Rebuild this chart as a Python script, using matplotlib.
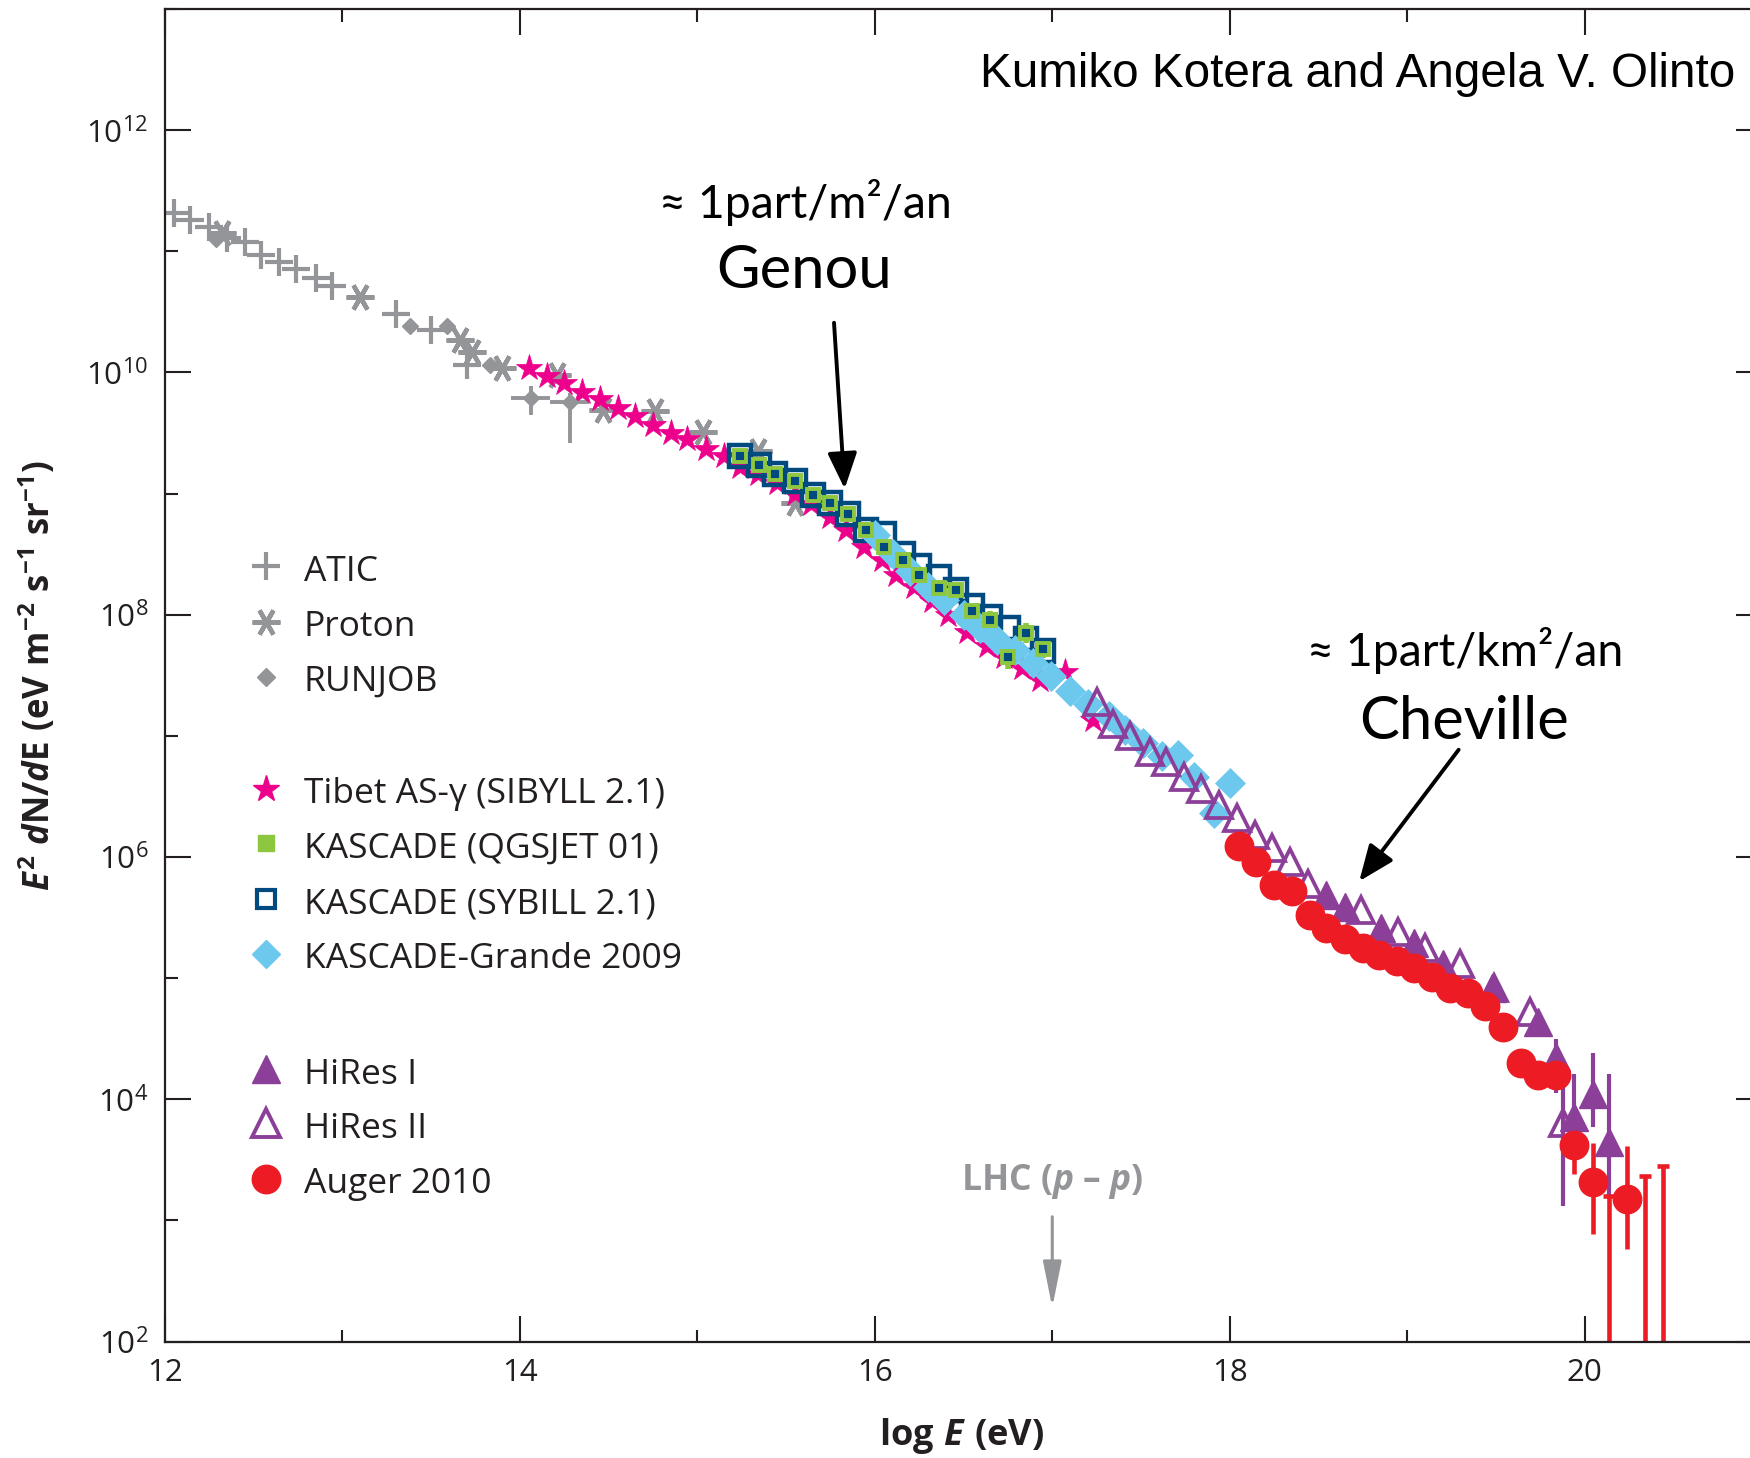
import matplotlib
matplotlib.use("Agg")
import numpy as np
import matplotlib.pyplot as plt
from matplotlib.ticker import FixedLocator, FixedFormatter, NullFormatter

plt.rcParams["font.family"] = ["Open Sans", "DejaVu Sans"]
plt.rcParams["mathtext.fontset"] = "custom"
plt.rcParams["mathtext.rm"] = "Open Sans:bold"
plt.rcParams["mathtext.it"] = "Open Sans:italic:bold"
plt.rcParams["mathtext.bf"] = "Open Sans:bold"

# ---- data: log10(E) and log10(E^2 dN/dE) ----
atic_x = [12.05, 12.14, 12.25, 12.35, 12.45, 12.54, 12.64, 12.74, 12.85, 12.94, 13.30, 13.50, 13.70]
atic_y = [11.32, 11.26, 11.20, 11.11, 11.08, 10.97, 10.91, 10.85, 10.78, 10.71, 10.48, 10.35, 10.06]

proton_x = [12.32, 13.10, 13.66, 13.73, 13.90, 14.21, 14.47, 14.76, 15.03, 15.34, 15.55]
proton_y = [11.15, 10.62, 10.27, 10.17, 10.04, 9.98, 9.69, 9.68, 9.51, 9.35, 8.92]

runjob_x = [12.29, 13.38, 13.59, 13.83, 14.06, 14.28]
runjob_y = [11.10, 10.38, 10.38, 10.06, 9.79, 9.76]
runjob_xerr = [0, 0, 0, 0, 0.11, 0.11]
runjob_ylo = [0, 0, 0, 0, 0.14, 0.34]
runjob_yhi = [0, 0, 0, 0, 0.10, 0.07]

tibet_x = [14.05, 14.15, 14.25, 14.35, 14.45, 14.55, 14.65, 14.75, 14.85, 14.94, 15.05,
           15.15, 15.24, 15.34, 15.45, 15.55, 15.64, 15.75, 15.84, 15.94, 16.04, 16.12,
           16.22, 16.32, 16.41, 16.52, 16.63, 16.73, 16.83, 16.93, 17.07, 17.23]
tibet_y = [10.04, 9.97, 9.91, 9.84, 9.78, 9.71, 9.64, 9.57, 9.50, 9.45, 9.37,
           9.31, 9.22, 9.16, 9.09, 9.00, 8.91, 8.81, 8.70, 8.56, 8.45, 8.33,
           8.23, 8.11, 8.00, 7.86, 7.74, 7.65, 7.56, 7.46, 7.53, 7.13]

kas_x = [15.24, 15.35, 15.44, 15.55, 15.65, 15.75, 15.85, 15.95, 16.05, 16.16, 16.25,
         16.36, 16.46, 16.55, 16.65, 16.75, 16.85, 16.95]
sybill_y = [9.31, 9.24, 9.16, 9.10, 8.99, 8.92, 8.83, 8.70, 8.67, 8.50, 8.40,
            8.31, 8.20, 8.07, 7.98, 7.89, 7.80, 7.70]
qgsjet_y = [9.31, 9.24, 9.16, 9.10, 8.99, 8.92, 8.83, 8.70, 8.56, 8.45, 8.33,
            8.22, 8.20, 8.03, 7.96, 7.65, 7.85, 7.72]
qgsjet_err = [0, 0, 0, 0, 0, 0, 0, 0, 0.03, 0.03, 0.04, 0.04, 0.05, 0.06, 0.07, 0.10, 0.08, 0.08]

grande_x = [16.00, 16.10, 16.20, 16.30, 16.39, 16.50, 16.59, 16.69, 16.79, 16.89, 16.99,
            17.10, 17.20, 17.32, 17.41, 17.51, 17.62, 17.71, 17.80, 17.91, 18.00]
grande_y = [8.66, 8.50, 8.36, 8.23, 8.12, 8.00, 7.89, 7.79, 7.71, 7.60, 7.49,
            7.37, 7.26, 7.16, 7.05, 6.94, 6.83, 6.84, 6.66, 6.36, 6.61]

hires1_x = [18.54, 18.65, 18.85, 19.04, 19.20, 19.48, 19.74, 19.84, 19.94, 20.05, 20.14]
hires1_y = [5.69, 5.59, 5.41, 5.29, 5.12, 4.92, 4.64, 4.35, 3.85, 4.04, 3.65]
hires1_ylo = [0, 0, 0, 0, 0, 0, 0, 0.30, 0.30, 0.27, 0.44]
hires1_yhi = [0, 0, 0, 0, 0, 0, 0, 0.15, 0.36, 0.34, 0.56]

hires2_x = [17.25, 17.34, 17.44, 17.55, 17.64, 17.74, 17.84, 17.94, 18.04, 18.14, 18.24,
            18.34, 18.44, 18.74, 18.95, 19.10, 19.30, 19.49, 19.69, 19.88]
hires2_y = [7.28, 7.10, 7.00, 6.87, 6.78, 6.66, 6.56, 6.43, 6.32, 6.18, 6.07,
            5.96, 5.78, 5.56, 5.38, 5.25, 5.12, 4.92, 4.72, 3.80]
hires2_ylo = [0] * 19 + [0.68]
hires2_yhi = [0] * 19 + [0.53]

auger_x = [18.05, 18.15, 18.25, 18.35, 18.45, 18.54, 18.65, 18.75, 18.84, 18.94, 19.04,
           19.14, 19.24, 19.34, 19.44, 19.54, 19.64, 19.74, 19.84, 19.94, 20.05, 20.24]
auger_y = [6.09, 5.96, 5.77, 5.72, 5.52, 5.41, 5.32, 5.25, 5.19, 5.14, 5.08,
           5.01, 4.92, 4.88, 4.77, 4.60, 4.30, 4.20, 4.20, 3.62, 3.32, 3.18]
auger_ylo = [0] * 19 + [0.24, 0.43, 0.42]
auger_yhi = [0] * 19 + [0.18, 0.32, 0.43]
auger_ul_x = [20.14, 20.34, 20.44]
auger_ul_y = [3.20, 3.37, 3.45]

GRAY = "#939598"
MAGENTA = "#EC008C"
GREEN = "#8DC63F"
NAVY = "#004A7F"
LBLUE = "#6DC8EE"
PURPLE = "#8B3F98"
RED = "#ED1C24"
INK = "#231F20"


def pw(y):
    return 10 ** np.asarray(y, dtype=float)


def yerr(y, lo, hi):
    y = pw(y)
    return [y - y / 10 ** np.asarray(lo), y * 10 ** np.asarray(hi) - y]


fig = plt.figure(figsize=(17.5, 14.58), dpi=100)
ax = fig.add_axes([0.0943, 0.0799, 0.9126, 0.9139])
ax.set_yscale("log")
ax.set_xlim(12, 21)
ax.set_ylim(1e2, 1e13)

# gray low energy sets
ax.plot(atic_x, pw(atic_y), ls="none", marker="+", ms=20, mew=3.0, color=GRAY)
ax.plot(proton_x, pw(proton_y), ls="none", marker=(6, 2, 90), ms=20, mew=3.2, color=GRAY)
ax.errorbar(runjob_x, pw(runjob_y), xerr=runjob_xerr, yerr=yerr(runjob_y, runjob_ylo, runjob_yhi),
            fmt="D", ms=8.5, color=GRAY, elinewidth=2.8, capsize=0)

ax.plot(tibet_x, pw(tibet_y), ls="none", marker="*", ms=20, color=MAGENTA, mew=0.5)

ax.errorbar(kas_x, pw(qgsjet_y), yerr=yerr(qgsjet_y, qgsjet_err, qgsjet_err), fmt="s", ms=8.5,
            mfc=NAVY, mec=GREEN, mew=2.8, ecolor=GREEN, elinewidth=4, capsize=0)
ax.plot(kas_x, pw(sybill_y), ls="none", marker="s", ms=16.5, mfc="none", mec=NAVY, mew=3.2)

ax.plot(grande_x, pw(grande_y), ls="none", marker="D", ms=15, color=LBLUE, mec=LBLUE, mew=0.5)

ax.errorbar(hires1_x, pw(hires1_y), yerr=yerr(hires1_y, hires1_ylo, hires1_yhi), fmt="^", ms=20,
            color=PURPLE, elinewidth=3.0, capsize=0)
ax.errorbar(hires2_x, pw(hires2_y), yerr=yerr(hires2_y, hires2_ylo, hires2_yhi), fmt="^", ms=19,
            mfc="none", mec=PURPLE, mew=2.7, ecolor=PURPLE, elinewidth=3.0, capsize=0)

ax.errorbar(auger_x, pw(auger_y), yerr=yerr(auger_y, auger_ylo, auger_yhi), fmt="o", ms=20.5,
            color=RED, elinewidth=3.3, capsize=0)
ax.vlines(auger_ul_x, 10, pw(auger_ul_y), color=RED, lw=3.3)
ax.plot(auger_ul_x, pw(auger_ul_y), ls="none", marker="_", ms=8, mew=3.3, color=RED)

# axes styling
for s in ax.spines.values():
    s.set_linewidth(1.6)
    s.set_color(INK)
ax.xaxis.set_major_locator(FixedLocator([12, 14, 16, 18, 20]))
ax.xaxis.set_minor_locator(FixedLocator([13, 15, 17, 19, 21]))
ymaj = [10.0 ** k for k in range(2, 13, 2)]
ax.yaxis.set_major_locator(FixedLocator(ymaj))
ax.yaxis.set_major_formatter(FixedFormatter([r"$\mathdefault{10^{%d}}$" % k for k in range(2, 13, 2)]))
ax.yaxis.set_minor_locator(FixedLocator([10.0 ** k for k in range(3, 14, 2)]))
ax.yaxis.set_minor_formatter(NullFormatter())
ax.tick_params(which="both", direction="in", top=True, right=True, width=1.5, color=INK,
               labelsize=22.5, labelcolor=INK)
ax.tick_params(which="major", length=18.5, pad=12)
ax.tick_params(which="minor", length=9)

ax.set_xlabel(r"$\mathrm{log}\ E\ (\mathrm{eV})$", fontsize=26, color=INK, va="center")
ax.xaxis.set_label_coords(0.499, -0.071)
ax.set_ylabel(r"$E^{2}\ d\mathrm{N}/d\mathrm{E}\ (\mathrm{eV\ m^{-2}\ s^{-1}\ sr^{-1}})$",
              fontsize=25, color=INK, va="center")
ax.yaxis.set_label_coords(-0.080, 0.5)

# hand-placed legend, three groups
legend_rows = [
    ("ATIC", dict(marker="+", ms=20, mew=3.0, color=GRAY), 0.582),
    ("Proton", dict(marker=(6, 2, 90), ms=20, mew=3.2, color=GRAY), 0.540),
    ("RUNJOB", dict(marker="D", ms=9, color=GRAY), 0.499),
    ("Tibet AS-\u03b3 (SIBYLL 2.1)", dict(marker="*", ms=20, color=MAGENTA), 0.415),
    ("KASCADE (QGSJET 01)", dict(marker="s", ms=11.5, color=GREEN), 0.374),
    ("KASCADE (SYBILL 2.1)", dict(marker="s", ms=12.5, mfc="white", mec=NAVY, mew=3.0), 0.332),
    ("KASCADE-Grande 2009", dict(marker="D", ms=14.5, color=LBLUE), 0.291),
    ("HiRes I", dict(marker="^", ms=20, color=PURPLE), 0.2045),
    ("HiRes II", dict(marker="^", ms=20, mfc="white", mec=PURPLE, mew=2.8), 0.164),
    ("Auger 2010", dict(marker="o", ms=20.5, color=RED), 0.122),
]
for label, style, yrow in legend_rows:
    ax.plot([0.063], [yrow], transform=ax.transAxes, clip_on=False, ls="none", **style)
    ax.text(0.087, yrow - 0.0109, label, transform=ax.transAxes, fontsize=25.5,
            color=INK, va="baseline", ha="left")

# annotations
fig.text(1735 / 1750, 1 - 86.7 / 1458, "Kumiko Kotera and Angela V. Olinto",
         family=["Liberation Sans", "DejaVu Sans"], fontsize=34.3, color="black",
         ha="right", va="baseline")
ann_font = ["Lato", "DejaVu Sans"]
fig.text(805 / 1750, 1 - 217.6 / 1458, "\u2248 1part/m\u00b2/an", family=ann_font,
         fontsize=33.5, ha="center", va="baseline")
fig.text(804 / 1750, 1 - 288 / 1458, "Genou", family=ann_font, fontsize=43,
         ha="center", va="baseline")
fig.text(1465 / 1750, 1 - 666 / 1458, "\u2248 1part/km\u00b2/an", family=ann_font,
         fontsize=33.5, ha="center", va="baseline")
fig.text(1464 / 1750, 1 - 739 / 1458, "Cheville", family=ann_font, fontsize=43,
         ha="center", va="baseline")

arrow = dict(arrowstyle="-|>,head_length=1.1,head_width=0.45", color="black", lw=2.8,
             mutation_scale=20, shrinkA=0, shrinkB=0)
ax.annotate("", xy=(15.83, 10 ** 9.04), xytext=(15.77, 10 ** 10.41), arrowprops=arrow)
ax.annotate("", xy=(18.73, 10 ** 5.80), xytext=(19.29, 10 ** 6.885), arrowprops=arrow)

ax.text(17.0, 10 ** 3.25, "LHC ($\\mathit{p}$ \u2013 $\\mathit{p}$)",
        fontsize=25.6, fontweight="bold", color=GRAY, ha="center", va="baseline")
ax.annotate("", xy=(17.0, 10 ** 2.28), xytext=(17.0, 10 ** 3.03),
            arrowprops=dict(arrowstyle="-|>,head_length=2.0,head_width=0.4", color=GRAY,
                            lw=2.2, mutation_scale=14, shrinkA=0, shrinkB=0))

fig.savefig("out.png", dpi=100)
